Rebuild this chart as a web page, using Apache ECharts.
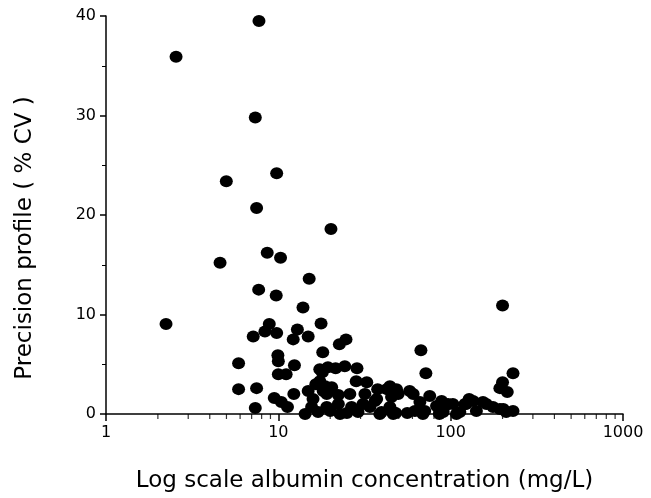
<!DOCTYPE html>
<html>
<head>
<meta charset="utf-8">
<script src="https://cdn.jsdelivr.net/npm/echarts@6/dist/echarts.min.js"></script>
<style>
html,body{margin:0;padding:0;background:#fff;}
#chart{width:651px;height:498px;}
</style>
</head>
<body>
<div id="chart"></div>
<script>
// Albumin concentration (mg/L), log scale
const concentration = [
  7.72, 2.55, 7.35, 4.99, 9.78, 7.48, 20.2,
  4.59, 8.62, 10.3, 15.1, 7.69, 9.72, 13.9,
  2.23, 17.7, 8.86, 7.15, 8.36, 9.78, 12.2, 12.9, 14.9,
  22.6, 24.7, 18.1, 5.88, 9.94, 10.0, 12.4, 10.0, 11.1,
  5.88, 7.48, 9.47, 10.4, 11.3, 12.3, 7.35, 14.3,
  200, 67.2, 71.8, 230, 200, 193, 213,
  17.4, 17.4, 18.7, 19.4, 24.3, 28.6, 28.3, 32.6, 37.7, 42.5,
  14.9, 15.9, 15.6, 19.1, 19.1, 22.3, 22.3, 22.8, 26.0, 26.6,
  31.8, 34.0, 38.8, 37.2, 44.4, 45.4, 46.4, 49.6, 57.8, 60.6,
  75.6, 66.3, 88.6, 31.0, 36.4, 39.7, 48, 56, 62, 70.7,
  82.8, 96.6, 86.4, 92.5, 103, 121, 135, 154, 176, 202,
  230, 90.5, 113, 141, 210, 18.2, 20.4, 16.5, 18.0, 21.5,
  17, 20, 25, 29, 128, 161, 193, 46.4, 69, 86, 108, 123, 44.4, 48.5
];
// Precision profile (% CV)
const cv = [
  39.5, 35.9, 29.8, 23.4, 24.2, 20.7, 18.6,
  15.2, 16.2, 15.7, 13.6, 12.5, 11.9, 10.7,
  9.05, 9.1, 9.05, 7.8, 8.3, 8.15, 7.5, 8.5, 7.8,
  7.0, 7.5, 6.2, 5.1, 5.9, 5.3, 4.9, 4.0, 4.0,
  2.5, 2.6, 1.6, 1.2, 0.7, 2.0, 0.6, 0.0,
  10.9, 6.4, 4.1, 4.1, 3.2, 2.6, 2.2,
  4.5, 3.3, 2.8, 4.7, 4.8, 4.6, 3.3, 3.2, 2.5, 2.5,
  2.3, 1.5, 0.7, 2.0, 0.7, 1.9, 1.0, 0.0, 2.0, 0.7,
  2.0, 0.7, 0.0, 1.5, 0.7, 1.7, 0.0, 2.0, 2.3, 2.0,
  1.8, 1.2, 1.3, 1.0, 1.3, 0.2, 0.1, 0.1, 0.3, 0.3,
  0.8, 1.0, 0.2, 0.8, 1.0, 1.0, 1.3, 1.2, 0.7, 0.5,
  0.3, 0.2, 0.2, 0.3, 0.2, 2.3, 2.7, 3.0, 4.2, 4.6,
  0.2, 0.3, 0.1, 0.2, 1.5, 1.0, 0.5, 0.2, 0.0, 0.0, 0.0, 1.0, 2.8, 2.5
];
// Minor tick positions on the log x axis
const xMinorTicks = [2,3,4,5,6,7,8,9,20,30,40,50,60,70,80,90,200,300,400,500,600,700,800,900];

const points = concentration.map((x, i) => [x, cv[i]]);
const FONT = '"DejaVu Sans", Verdana, sans-serif';

const chart = echarts.init(document.getElementById('chart'), null, {renderer: 'canvas'});
chart.setOption({
  backgroundColor: '#fff',
  animation: false,
  grid: {left: 106, right: 28, top: 16, bottom: 81, containLabel: false},
  xAxis: {
    type: 'log', logBase: 10, min: 1, max: 1000,
    name: 'Log scale albumin concentration (mg/L)',
    nameLocation: 'middle', nameGap: 56,
    nameTextStyle: {fontFamily: FONT, fontSize: 23, color: '#000'},
    axisLine: {lineStyle: {color: '#000', width: 1.5}},
    axisTick: {length: 7, lineStyle: {color: '#000', width: 1.5}},
    axisLabel: {fontFamily: FONT, fontSize: 16, color: '#000', margin: 11,
      formatter: v => String(Math.round(v))},
    splitLine: {show: false},
    minorTick: {show: false}
  },
  yAxis: {
    type: 'value', min: 0, max: 40, interval: 10,
    name: 'Precision profile ( % CV )',
    nameLocation: 'middle', nameGap: 69, nameRotate: 90,
    nameTextStyle: {fontFamily: FONT, fontSize: 23, color: '#000', padding: [0, 46, 0, 0]},
    axisLine: {show: true, lineStyle: {color: '#000', width: 1.5}},
    axisTick: {show: true, length: 6, lineStyle: {color: '#000', width: 1.5}},
    minorTick: {show: true, splitNumber: 2, length: 4, lineStyle: {color: '#000', width: 1}},
    axisLabel: {fontFamily: FONT, fontSize: 16, color: '#000', margin: 10},
    splitLine: {show: false}
  },
  series: [
    {
      type: 'scatter',
      data: points,
      symbol: 'circle',
      symbolSize: [13, 12],
      itemStyle: {color: '#000', opacity: 1},
      clip: false,
      z: 3
    },
    {
      type: 'scatter',
      data: xMinorTicks.map(v => [v, 0]),
      symbol: 'rect',
      symbolSize: [1.2, 5],
      symbolOffset: [0, 2.5],
      itemStyle: {color: '#000'},
      silent: true,
      clip: false,
      z: 2
    }
  ]
});
</script>
</body>
</html>
